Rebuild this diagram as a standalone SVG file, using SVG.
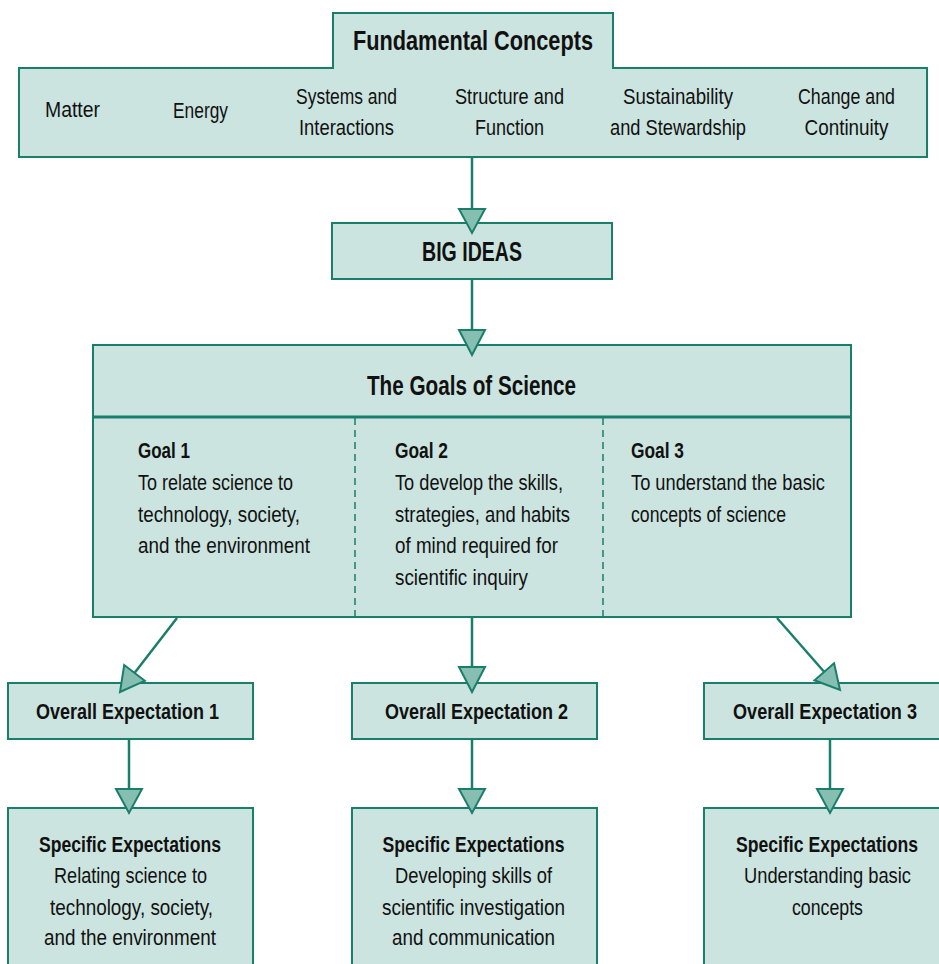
<svg xmlns="http://www.w3.org/2000/svg" width="939" height="964" viewBox="0 0 939 964">
<style>
.box{fill:#cce4df;stroke:#1a7f6a;stroke-width:2}
.ln{stroke:#1a7f6a;stroke-width:2.5;fill:none}
.ah{fill:#86bfb2;stroke:#1a7f6a;stroke-width:2;stroke-linejoin:miter}
text{font-family:"Liberation Sans Narrow","Liberation Sans",Arial,sans-serif;fill:#111;font-size:22px}
.b{font-weight:bold}
.h{font-weight:bold;font-size:28px}
.c{text-anchor:middle}
</style>
<rect width="939" height="964" fill="#fff"/>
<g id="fundamental-concepts">
<path class="box" d="M19,68 H333 V13 H613 V68 H927 V157 H19 Z"/>
<text class="h c" x="473" y="50" textLength="240" lengthAdjust="spacingAndGlyphs">Fundamental Concepts</text>
<text x="45" y="117" textLength="55" lengthAdjust="spacingAndGlyphs">Matter</text>
<text x="173" y="118" textLength="55" lengthAdjust="spacingAndGlyphs">Energy</text>
<text class="c" x="346.5" y="104" textLength="101" lengthAdjust="spacingAndGlyphs">Systems and</text>
<text class="c" x="346.5" y="135" textLength="95" lengthAdjust="spacingAndGlyphs">Interactions</text>
<text class="c" x="509.5" y="104" textLength="109" lengthAdjust="spacingAndGlyphs">Structure and</text>
<text class="c" x="509.5" y="135" textLength="69" lengthAdjust="spacingAndGlyphs">Function</text>
<text class="c" x="678" y="104" textLength="110" lengthAdjust="spacingAndGlyphs">Sustainability</text>
<text class="c" x="678" y="135" textLength="136" lengthAdjust="spacingAndGlyphs">and Stewardship</text>
<text class="c" x="846.5" y="104" textLength="97" lengthAdjust="spacingAndGlyphs">Change and</text>
<text class="c" x="846.5" y="135" textLength="84" lengthAdjust="spacingAndGlyphs">Continuity</text>
</g>
<g id="big-ideas">
<rect class="box" x="332" y="223" width="280" height="56"/>
<text class="h c" x="472" y="261" textLength="100" lengthAdjust="spacingAndGlyphs">BIG IDEAS</text>
</g>
<g id="goals-of-science">
<rect class="box" x="93" y="345" width="758" height="272"/>
<line x1="93" y1="417" x2="851" y2="417" stroke="#1a7f6a" stroke-width="3"/>
<line x1="355" y1="418" x2="355" y2="616" stroke="#1a7f6a" stroke-width="1.5" stroke-dasharray="7,5"/>
<line x1="603" y1="418" x2="603" y2="616" stroke="#1a7f6a" stroke-width="1.5" stroke-dasharray="7,5"/>
<text class="h c" x="471.5" y="395" textLength="209" lengthAdjust="spacingAndGlyphs">The Goals of Science</text>
<text class="b" x="138" y="458" textLength="52" lengthAdjust="spacingAndGlyphs">Goal 1</text>
<text x="138" y="490" textLength="155" lengthAdjust="spacingAndGlyphs">To relate science to</text>
<text x="138" y="522" textLength="162" lengthAdjust="spacingAndGlyphs">technology, society,</text>
<text x="138" y="553" textLength="172" lengthAdjust="spacingAndGlyphs">and the environment</text>
<text class="b" x="395" y="458" textLength="53" lengthAdjust="spacingAndGlyphs">Goal 2</text>
<text x="395" y="490" textLength="168" lengthAdjust="spacingAndGlyphs">To develop the skills,</text>
<text x="395" y="522" textLength="175" lengthAdjust="spacingAndGlyphs">strategies, and habits</text>
<text x="395" y="553" textLength="163" lengthAdjust="spacingAndGlyphs">of mind required for</text>
<text x="395" y="585" textLength="133" lengthAdjust="spacingAndGlyphs">scientific inquiry</text>
<text class="b" x="631" y="458" textLength="53" lengthAdjust="spacingAndGlyphs">Goal 3</text>
<text x="631" y="490" textLength="194" lengthAdjust="spacingAndGlyphs">To understand the basic</text>
<text x="631" y="522" textLength="155" lengthAdjust="spacingAndGlyphs">concepts of science</text>
</g>
<g id="overall-1">
<rect class="box" x="8" y="683" width="245" height="56"/>
<text class="b c" x="127.5" y="719" textLength="183" lengthAdjust="spacingAndGlyphs">Overall Expectation 1</text>
</g>
<g id="overall-2">
<rect class="box" x="352" y="683" width="245" height="56"/>
<text class="b c" x="476.5" y="719" textLength="183" lengthAdjust="spacingAndGlyphs">Overall Expectation 2</text>
</g>
<g id="overall-3">
<rect class="box" x="704" y="683" width="236" height="56"/>
<text class="b c" x="825" y="719" textLength="184" lengthAdjust="spacingAndGlyphs">Overall Expectation 3</text>
</g>
<g id="specific-1">
<rect class="box" x="8" y="808" width="245" height="158"/>
<text class="b c" x="130" y="852" textLength="182" lengthAdjust="spacingAndGlyphs">Specific Expectations</text>
<text class="c" x="130.5" y="883" textLength="153" lengthAdjust="spacingAndGlyphs">Relating science to</text>
<text class="c" x="131.5" y="915" textLength="163" lengthAdjust="spacingAndGlyphs">technology, society,</text>
<text class="c" x="130" y="945" textLength="172" lengthAdjust="spacingAndGlyphs">and the environment</text>
</g>
<g id="specific-2">
<rect class="box" x="352" y="808" width="245" height="158"/>
<text class="b c" x="473.5" y="852" textLength="182" lengthAdjust="spacingAndGlyphs">Specific Expectations</text>
<text class="c" x="473.5" y="883" textLength="157" lengthAdjust="spacingAndGlyphs">Developing skills of</text>
<text class="c" x="473.5" y="915" textLength="183" lengthAdjust="spacingAndGlyphs">scientific investigation</text>
<text class="c" x="473.5" y="945" textLength="163" lengthAdjust="spacingAndGlyphs">and communication</text>
</g>
<g id="specific-3">
<rect class="box" x="704" y="808" width="236" height="158"/>
<text class="b c" x="827" y="852" textLength="182" lengthAdjust="spacingAndGlyphs">Specific Expectations</text>
<text class="c" x="827.5" y="883" textLength="167" lengthAdjust="spacingAndGlyphs">Understanding basic</text>
<text class="c" x="827.5" y="915" textLength="71" lengthAdjust="spacingAndGlyphs">concepts</text>
</g>
<g id="connectors">
<line class="ln" x1="472" y1="158" x2="472" y2="212"/>
<polygon class="ah" points="459,209 485,209 472,233"/>
<line class="ln" x1="472" y1="280" x2="472" y2="333"/>
<polygon class="ah" points="459,330 485,330 472,355"/>
<line class="ln" x1="177" y1="618" x2="134.5" y2="673"/>
<polygon class="ah" points="144.8,680.8 124.2,665 120,692"/>
<line class="ln" x1="472" y1="618" x2="472" y2="670"/>
<polygon class="ah" points="459,667 485,667 472,692"/>
<line class="ln" x1="777" y1="618" x2="824.3" y2="672"/>
<polygon class="ah" points="834.1,663.3 814.5,680.3 840,690"/>
<line class="ln" x1="129" y1="740" x2="129" y2="792"/>
<polygon class="ah" points="116,789 142,789 129,813"/>
<line class="ln" x1="472" y1="740" x2="472" y2="792"/>
<polygon class="ah" points="459,789 485,789 472,813"/>
<line class="ln" x1="830" y1="740" x2="830" y2="792"/>
<polygon class="ah" points="817,789 843,789 830,813"/>
</g>
</svg>
